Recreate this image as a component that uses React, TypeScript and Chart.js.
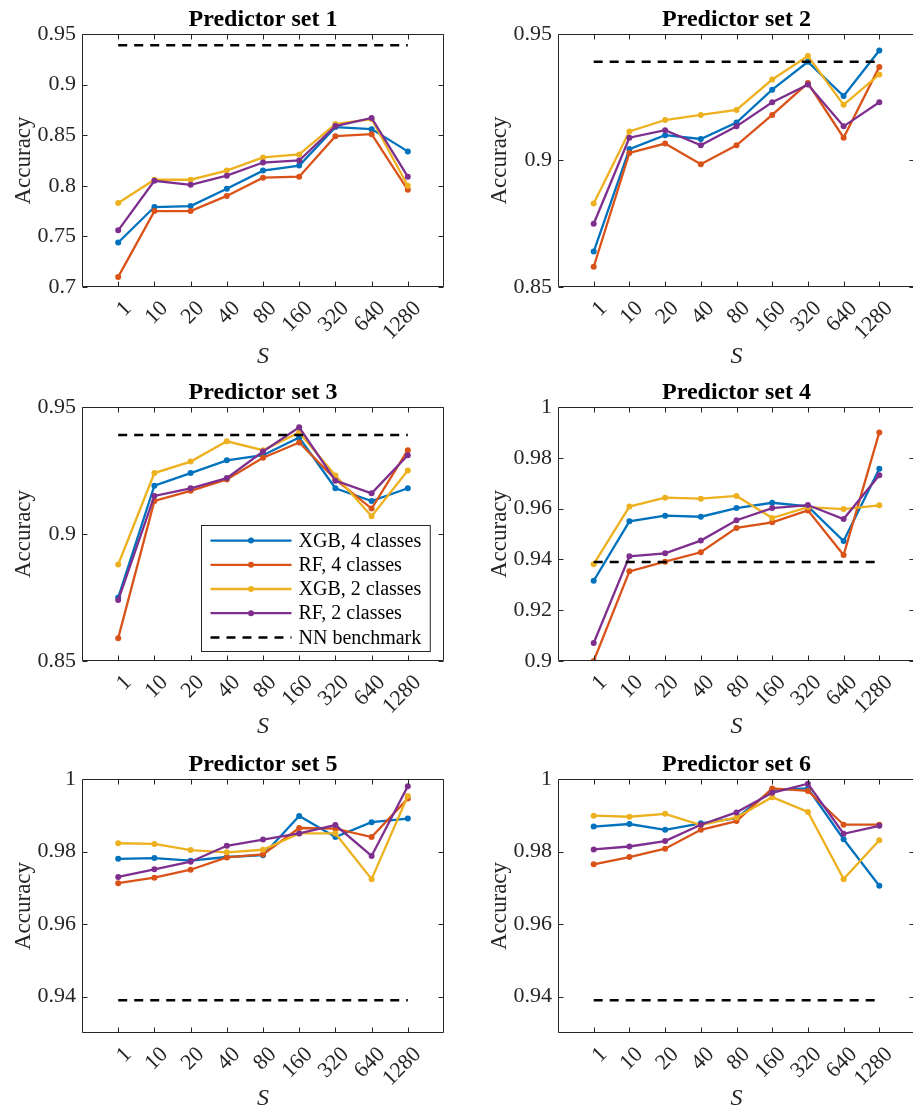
import React, { useEffect, useRef } from "react";
import { Chart, registerables } from "chart.js";

Chart.register(...registerables);

// ---- data ---------------------------------------------------------------
const S_LABELS = ["1", "10", "20", "40", "80", "160", "320", "640", "1280"];
const SERIES_NAMES = ["XGB, 4 classes", "RF, 4 classes", "XGB, 2 classes", "RF, 2 classes"];
const SERIES_COLORS = ["#0072BD", "#D95319", "#EDB120", "#7E2F8E"];
const NN_LABEL = "NN benchmark";
const NN_BENCHMARK = 0.939;

const p1Xgb4 = [0.744, 0.779, 0.780, 0.797, 0.815, 0.820, 0.858, 0.856, 0.834];
const p1Rf4 = [0.710, 0.775, 0.775, 0.790, 0.808, 0.809, 0.849, 0.851, 0.796];
const p1Xgb2 = [0.783, 0.806, 0.806, 0.815, 0.828, 0.831, 0.861, 0.866, 0.800];
const p1Rf2 = [0.756, 0.805, 0.801, 0.810, 0.823, 0.825, 0.859, 0.867, 0.809];
const p1Ticks = [0.7, 0.75, 0.8, 0.85, 0.9, 0.95];

const p2Xgb4 = [0.864, 0.9045, 0.910, 0.9085, 0.915, 0.928, 0.939, 0.9255, 0.9435];
const p2Rf4 = [0.858, 0.903, 0.9067, 0.8985, 0.906, 0.918, 0.9306, 0.909, 0.937];
const p2Xgb2 = [0.883, 0.9115, 0.916, 0.918, 0.920, 0.932, 0.9413, 0.922, 0.934];
const p2Rf2 = [0.875, 0.909, 0.912, 0.906, 0.9135, 0.923, 0.930, 0.9135, 0.923];
const p2Ticks = [0.85, 0.9, 0.95];

const p3Xgb4 = [0.875, 0.919, 0.924, 0.929, 0.931, 0.938, 0.918, 0.913, 0.918];
const p3Rf4 = [0.859, 0.913, 0.917, 0.9215, 0.930, 0.936, 0.9215, 0.910, 0.933];
const p3Xgb2 = [0.888, 0.924, 0.9285, 0.9365, 0.933, 0.940, 0.923, 0.907, 0.925];
const p3Rf2 = [0.874, 0.915, 0.918, 0.922, 0.9325, 0.942, 0.921, 0.916, 0.931];
const p3Ticks = [0.85, 0.9, 0.95];

const p4Xgb4 = [0.9316, 0.955, 0.9572, 0.9568, 0.9602, 0.9623, 0.9609, 0.9472, 0.9757];
const p4Rf4 = [0.900, 0.9353, 0.9391, 0.9428, 0.9524, 0.9546, 0.9593, 0.9417, 0.990];
const p4Xgb2 = [0.9381, 0.9608, 0.9643, 0.9639, 0.965, 0.9563, 0.9606, 0.9598, 0.9613];
const p4Rf2 = [0.9071, 0.9412, 0.9424, 0.9474, 0.9554, 0.9602, 0.9614, 0.9559, 0.9731];
const p4Ticks = [0.9, 0.92, 0.94, 0.96, 0.98, 1];

const p5Xgb4 = [0.978, 0.9782, 0.9775, 0.9785, 0.979, 0.9898, 0.984, 0.9881, 0.9891];
const p5Rf4 = [0.9713, 0.9728, 0.975, 0.9784, 0.9792, 0.9865, 0.9863, 0.984, 0.9946];
const p5Xgb2 = [0.9823, 0.9821, 0.9804, 0.9798, 0.9805, 0.985, 0.985, 0.9724, 0.9953];
const p5Rf2 = [0.973, 0.9751, 0.9772, 0.9816, 0.9833, 0.985, 0.9873, 0.9788, 0.998];
const p5Ticks = [0.94, 0.96, 0.98, 1];

const p6Xgb4 = [0.9869, 0.9876, 0.986, 0.9878, 0.9892, 0.997, 0.9974, 0.9834, 0.9706];
const p6Rf4 = [0.9765, 0.9785, 0.9808, 0.986, 0.9884, 0.9974, 0.9967, 0.9874, 0.9874];
const p6Xgb2 = [0.9899, 0.9896, 0.9904, 0.9873, 0.9894, 0.995, 0.9909, 0.9724, 0.9831];
const p6Rf2 = [0.9806, 0.9814, 0.9829, 0.9874, 0.9908, 0.9962, 0.9987, 0.9849, 0.9871];
const p6Ticks = [0.94, 0.96, 0.98, 1];

type PanelSpec = {
  title: string;
  series: number[][];
  yMin: number;
  yMax: number;
  yTicks: number[];
  legend: boolean;
  col: number;
  row: number;
};

const PANELS: PanelSpec[] = [
  { title: "Predictor set 1", series: [p1Xgb4, p1Rf4, p1Xgb2, p1Rf2], yMin: 0.7, yMax: 0.95, yTicks: p1Ticks, legend: false, col: 0, row: 0 },
  { title: "Predictor set 2", series: [p2Xgb4, p2Rf4, p2Xgb2, p2Rf2], yMin: 0.85, yMax: 0.95, yTicks: p2Ticks, legend: false, col: 1, row: 0 },
  { title: "Predictor set 3", series: [p3Xgb4, p3Rf4, p3Xgb2, p3Rf2], yMin: 0.85, yMax: 0.95, yTicks: p3Ticks, legend: true, col: 0, row: 1 },
  { title: "Predictor set 4", series: [p4Xgb4, p4Rf4, p4Xgb2, p4Rf2], yMin: 0.9, yMax: 1, yTicks: p4Ticks, legend: false, col: 1, row: 1 },
  { title: "Predictor set 5", series: [p5Xgb4, p5Rf4, p5Xgb2, p5Rf2], yMin: 0.93, yMax: 1, yTicks: p5Ticks, legend: false, col: 0, row: 2 },
  { title: "Predictor set 6", series: [p6Xgb4, p6Rf4, p6Xgb2, p6Rf2], yMin: 0.93, yMax: 1, yTicks: p6Ticks, legend: false, col: 1, row: 2 },
];

// ---- layout -------------------------------------------------------------
const FONT = "'Liberation Serif', 'Times New Roman', serif";
const AXIS_COLOR = "#262626";
const TICK_LEN = 5;

// canvas placement per column / row, and the plot box inside each canvas
const COLS = [
  { left: 0, width: 456, boxLeft: 82, boxRight: 444, yTitleX: 24 },
  { left: 456, width: 463, boxLeft: 102, boxRight: 463, yTitleX: 44 },
];
const ROWS = [
  { top: 0, height: 370, boxTop: 34, boxBottom: 287 },
  { top: 370, height: 370, boxTop: 37, boxBottom: 291 },
  { top: 740, height: 372, boxTop: 39, boxBottom: 293 },
];

const fmtTick = (v: number) => (Math.round(v * 1000) / 1000).toString();

// plot box with inward tick marks on all four sides, plus the legend
const framePlugin = {
  id: "frame",
  afterDraw(chart: any, _args: any, opts: any) {
    const { ctx, chartArea: a, scales } = chart;
    const xs = scales.x;
    const ys = scales.y;
    ctx.save();
    ctx.strokeStyle = AXIS_COLOR;
    ctx.lineWidth = 1;
    ctx.beginPath();
    const L = Math.round(a.left) + 0.5;
    const R = Math.round(a.right) - 0.5;
    const T = Math.round(a.top) + 0.5;
    const B = Math.round(a.bottom) - 0.5;
    xs.ticks.forEach((t: any) => {
      const px = Math.round(xs.getPixelForValue(t.value)) + 0.5;
      ctx.moveTo(px, B);
      ctx.lineTo(px, B - TICK_LEN);
      ctx.moveTo(px, T);
      ctx.lineTo(px, T + TICK_LEN);
    });
    ys.ticks.forEach((t: any) => {
      const py = Math.round(ys.getPixelForValue(t.value)) + 0.5;
      ctx.moveTo(L, py);
      ctx.lineTo(L + TICK_LEN, py);
      ctx.moveTo(R, py);
      ctx.lineTo(R - TICK_LEN, py);
    });
    ctx.rect(L, T, R - L, B - T);
    ctx.stroke();

    if (opts && opts.legend) {
      const ds = chart.data.datasets;
      const fontSize = 20;
      ctx.font = `${fontSize}px ${FONT}`;
      let maxW = 0;
      ds.forEach((d: any) => {
        maxW = Math.max(maxW, ctx.measureText(d.label).width);
      });
      const rowH = 24.2;
      const sampleW = 81;
      const padL = 9;
      const gap = 7;
      const padR = 9;
      const boxW = padL + sampleW + gap + maxW + padR;
      const boxH = ds.length * rowH + 5;
      const bx = Math.round(a.right - 14 - boxW) + 0.5;
      const by = Math.round(a.bottom - 10 - boxH) + 0.5;
      ctx.fillStyle = "#ffffff";
      ctx.fillRect(bx, by, boxW, boxH);
      ctx.strokeStyle = AXIS_COLOR;
      ctx.lineWidth = 1;
      ctx.strokeRect(bx, by, boxW, boxH);
      ds.forEach((d: any, i: number) => {
        const cy = by + 3 + rowH * (i + 0.5);
        const x0 = bx + padL;
        ctx.save();
        ctx.strokeStyle = d.borderColor;
        ctx.lineWidth = d.borderWidth;
        ctx.setLineDash(d.borderDash || []);
        ctx.beginPath();
        ctx.moveTo(x0, cy);
        ctx.lineTo(x0 + sampleW, cy);
        ctx.stroke();
        ctx.restore();
        if (d.pointRadius > 0) {
          ctx.fillStyle = d.borderColor;
          ctx.beginPath();
          ctx.arc(x0 + sampleW / 2, cy, d.pointRadius, 0, Math.PI * 2);
          ctx.fill();
        }
        ctx.fillStyle = "#000000";
        ctx.textAlign = "left";
        ctx.textBaseline = "middle";
        ctx.fillText(d.label, x0 + sampleW + gap, cy + 1);
      });
    }
    ctx.restore();
  },
};

function Panel({ spec }: { spec: PanelSpec }) {
  const ref = useRef<HTMLCanvasElement | null>(null);
  const col = COLS[spec.col];
  const row = ROWS[spec.row];

  useEffect(() => {
    if (!ref.current) return;
    const titleCenter = row.boxTop - 14;
    const titleSize = 24;
    const datasets: any[] = spec.series.map((vals, i) => ({
      label: SERIES_NAMES[i],
      data: vals.map((v, j) => ({ x: j + 1, y: v })),
      borderColor: SERIES_COLORS[i],
      backgroundColor: SERIES_COLORS[i],
      pointBackgroundColor: SERIES_COLORS[i],
      borderWidth: 2.3,
      pointRadius: 3,
      pointBorderWidth: 0,
      tension: 0,
      order: 10 - i,
    }));
    datasets.push({
      label: NN_LABEL,
      data: [
        { x: 1, y: NN_BENCHMARK },
        { x: S_LABELS.length, y: NN_BENCHMARK },
      ],
      borderColor: "#000000",
      backgroundColor: "#000000",
      borderWidth: 2.5,
      borderDash: [9, 7],
      pointRadius: 0,
      order: 0,
    });

    const chart = new Chart(ref.current, {
      type: "line",
      data: { datasets },
      plugins: [framePlugin as any],
      options: {
        animation: false,
        responsive: false,
        maintainAspectRatio: false,
        layout: { padding: { left: 0, top: 0, bottom: 0, right: col.width - col.boxRight } },
        plugins: {
          legend: { display: false },
          tooltip: { enabled: false },
          title: {
            display: true,
            text: spec.title,
            fullSize: false,
            color: "#000000",
            font: { family: FONT, size: titleSize, weight: "bold", lineHeight: 1 },
            padding: { top: titleCenter - titleSize / 2, bottom: row.boxTop - titleCenter - titleSize / 2 },
          },
          frame: { legend: spec.legend },
        } as any,
        scales: {
          x: {
            type: "linear",
            min: 0,
            max: S_LABELS.length + 1,
            afterBuildTicks: (s: any) => {
              s.ticks = S_LABELS.map((_, i) => ({ value: i + 1 }));
            },
            afterFit: (s: any) => {
              s.height = row.height - row.boxBottom;
            },
            grid: { display: false, drawTicks: false },
            border: { display: false },
            ticks: {
              autoSkip: false,
              minRotation: 45,
              maxRotation: 45,
              padding: 10,
              labelOffset: 10,
              color: AXIS_COLOR,
              font: { family: FONT, size: 22, lineHeight: 1.05 },
              callback: (v: any) => S_LABELS[Math.round(Number(v)) - 1] ?? "",
            },
            title: {
              display: true,
              text: "S",
              color: AXIS_COLOR,
              font: { family: FONT, size: 24, style: "italic", lineHeight: 1 },
              padding: { top: 0, bottom: 1 },
            },
          },
          y: {
            type: "linear",
            min: spec.yMin,
            max: spec.yMax,
            afterBuildTicks: (s: any) => {
              s.ticks = spec.yTicks.map((v) => ({ value: v }));
            },
            afterFit: (s: any) => {
              s.width = col.boxLeft;
            },
            grid: { display: false, drawTicks: false },
            border: { display: false },
            ticks: {
              padding: 6,
              color: AXIS_COLOR,
              font: { family: FONT, size: 22 },
              callback: (v: any) => fmtTick(Number(v)),
            },
            title: {
              display: true,
              text: "Accuracy",
              color: AXIS_COLOR,
              font: { family: FONT, size: 23, lineHeight: 1 },
              padding: { top: col.yTitleX - 11.5, bottom: 0 },
            },
          },
        } as any,
      },
    });
    return () => chart.destroy();
  }, [spec]);

  return (
    <canvas
      ref={ref}
      width={col.width}
      height={row.height}
      style={{
        position: "absolute",
        left: col.left,
        top: row.top,
        width: col.width,
        height: row.height,
      }}
    />
  );
}

export default function App() {
  return (
    <div
      style={{
        position: "absolute",
        left: 0,
        top: 0,
        width: 913,
        height: 1112,
        overflow: "hidden",
        background: "#ffffff",
      }}
    >
      {PANELS.map((p) => (
        <Panel key={p.title} spec={p} />
      ))}
    </div>
  );
}
